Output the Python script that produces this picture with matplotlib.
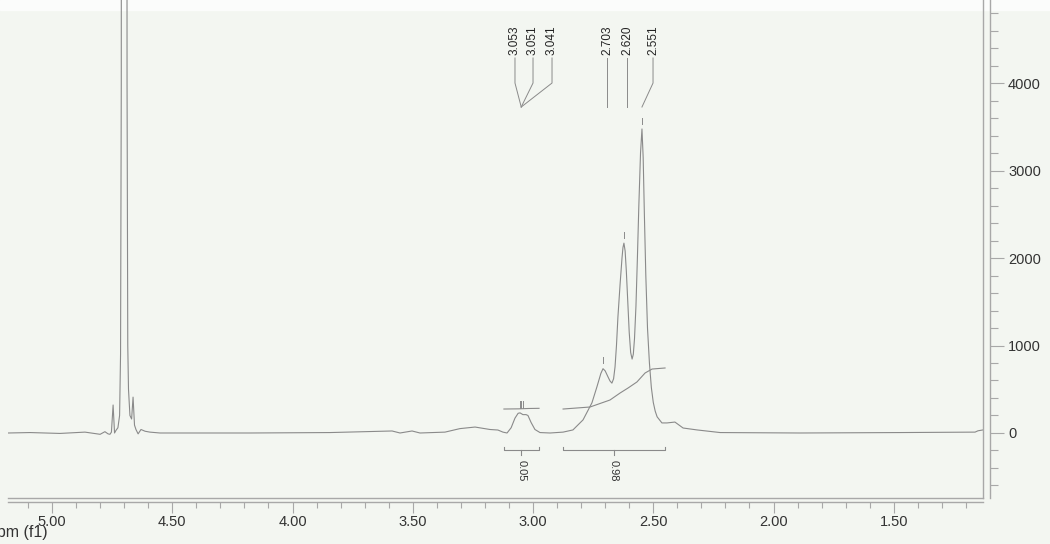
import matplotlib
matplotlib.use('Agg')
import matplotlib.pyplot as plt
from matplotlib.ticker import MultipleLocator, FixedLocator
from matplotlib.patches import Rectangle

# spectrum (ppm, intensity)
ppm = [5.183, 5.091, 4.967, 4.863, 4.800, 4.780, 4.767, 4.759, 4.753, 4.746,
       4.740, 4.734, 4.726, 4.719, 4.715, 4.712, 4.710, 4.700, 4.690, 4.688,
       4.685, 4.682, 4.676, 4.669, 4.663, 4.657, 4.651, 4.642, 4.630, 4.613,
       4.593, 4.551, 4.177, 3.844, 3.586, 3.553, 3.503, 3.470, 3.366, 3.304,
       3.241, 3.179, 3.146, 3.125, 3.108, 3.091, 3.075, 3.062, 3.054, 3.042,
       3.029, 3.021, 3.008, 2.992, 2.971, 2.929, 2.875, 2.834, 2.792, 2.755,
       2.734, 2.718, 2.709, 2.700, 2.688, 2.680, 2.672, 2.665, 2.659, 2.653,
       2.647, 2.638, 2.630, 2.626, 2.622, 2.617, 2.612, 2.606, 2.600, 2.594,
       2.588, 2.583, 2.578, 2.572, 2.566, 2.560, 2.553, 2.547, 2.542, 2.537,
       2.531, 2.524, 2.516, 2.508, 2.500, 2.492, 2.484, 2.464, 2.443, 2.410,
       2.376, 2.318, 2.222, 1.890, 1.474, 1.162, 1.150, 1.129]
intensity = [0, 5, -5, 10, -15, 15, -10, -15, 10, 320,
             0, 30, 60, 200, 900, 4000, 20000, 60000, 20000, 4000,
             1000, 500, 200, 160, 410, 90, 40, -10, 40, 20,
             10, 0, 0, 5, 23, 0, 23, 0, 10, 50,
             68, 40, 34, 10, 0, 60, 170, 225, 230, 210,
             210, 200, 120, 40, 5, 0, 10, 35, 150, 345,
             530, 680, 735, 710, 640, 595, 570, 620, 755, 1000,
             1325, 1700, 2000, 2120, 2170, 2080, 1850, 1500, 1150, 920,
             845, 900, 1080, 1450, 2000, 2600, 3200, 3475, 3150, 2500,
             1800, 1200, 800, 520, 350, 250, 185, 115, 115, 125,
             57, 35, 5, 0, 5, 10, 25, 35]

# peak picking
peak_labels = ['3.053', '3.051', '3.041', '2.703', '2.620', '2.551']
peak_ppm = [3.053, 3.051, 3.041, 2.709, 2.622, 2.547]
peak_height = [230, 230, 230, 735, 2170, 3475]
label_ppm = [3.075, 3.000, 2.921, 2.692, 2.609, 2.501]
leader_ppm = [3.049, 3.049, 3.049, 2.692, 2.609, 2.547]

# integrals
integral_labels = ['0.05', '0.98']
integral_ranges = [(3.121, 2.975), (2.875, 2.451)]
int1_ppm = [3.121, 3.060, 3.020, 2.975]
int1_val = [274, 276, 280, 282]
int2_ppm = [2.875, 2.763, 2.680, 2.638, 2.605, 2.568, 2.534, 2.505, 2.451]
int2_val = [274, 297, 377, 457, 514, 583, 686, 731, 743]

line_col = '#8a8a8a'
frame_col = '#a8a8a8'
text_col = '#333333'
narrow = ['Liberation Sans Narrow', 'Liberation Sans', 'DejaVu Sans']
plt.rcParams['font.family'] = ['Liberation Sans', 'DejaVu Sans']

fig = plt.figure(figsize=(10.5, 5.44), dpi=100, facecolor='#f3f6f1')
fig.patches.append(Rectangle((0, 1 - 10 / 544), 1, 10 / 544, transform=fig.transFigure,
                             color='#fbfcfb', zorder=-1))
ax = fig.add_axes([8 / 1050, 1 - 498 / 544, 975 / 1050, 498 / 544])
ax.set_facecolor('none')

ax.plot(ppm, intensity, color=line_col, lw=0.8)

# integral curves and brackets
ax.plot(int1_ppm, int1_val, color=line_col, lw=0.8)
ax.plot(int2_ppm, int2_val, color=line_col, lw=0.8)
for (a, b), lab in zip(integral_ranges, integral_labels):
    mid = (a + b) / 2
    ax.plot([a, a, b, b], [-160, -194, -194, -160], color=line_col, lw=0.8)
    ax.plot([mid, mid], [-194, -251], color=line_col, lw=0.8)
    ax.text(mid, -430, lab, rotation=270, ha='center', va='center',
            fontsize=8, color=text_col, family=narrow)

# peak labels with leader lines
for lab, p, h, lx, ex in zip(peak_labels, peak_ppm, peak_height, label_ppm, leader_ppm):
    ax.plot([lx, lx, ex], [4286, 4000, 3726], color=line_col, lw=0.7)
    ax.plot([p, p], [h + 60, h + 130], color=line_col, lw=0.7)
    ax.text(lx, 4320, lab, rotation=90, ha='center', va='bottom',
            fontsize=8.5, color='#222222', family=narrow)

ax.set_xlim(5.183, 1.129)
ax.set_ylim(-743, 4949)

# frame
ax.plot([0, 1], [0, 0], transform=ax.transAxes, color=frame_col, lw=1.0, clip_on=False)
ax.plot([1, 1], [0, 1], transform=ax.transAxes, color=frame_col, lw=1.0, clip_on=False)

for s in ['left', 'top']:
    ax.spines[s].set_visible(False)
ax.spines['right'].set_position(('outward', 5.0))
ax.spines['bottom'].set_position(('outward', 2.9))
for s in ['right', 'bottom']:
    ax.spines[s].set_color(frame_col)
    ax.spines[s].set_linewidth(1.0)

ax.yaxis.tick_right()
ax.yaxis.set_major_locator(FixedLocator([0, 1000, 2000, 3000, 4000]))
ax.yaxis.set_minor_locator(MultipleLocator(200))
ax.xaxis.set_major_locator(MultipleLocator(0.5))
ax.xaxis.set_minor_locator(MultipleLocator(0.1))
ax.xaxis.set_major_formatter(plt.FormatStrFormatter('%.2f'))
ax.tick_params(axis='y', which='major', length=10, width=0.8, color=frame_col,
               labelsize=10.5, labelcolor=text_col, pad=3)
ax.tick_params(axis='y', which='minor', length=5.8, width=0.8, color=frame_col)
ax.tick_params(axis='x', which='major', length=8, width=0.8, color=frame_col,
               labelsize=10.5, labelcolor=text_col, pad=1.5)
ax.tick_params(axis='x', which='minor', length=4.3, width=0.8, color=frame_col)

# axis title sits partly off the left edge, as in the scan
fig.text(48 / 1050, 1 - 533 / 544, 'ppm (f1)', ha='right', va='center',
         fontsize=11.5, color=text_col)

fig.savefig('out.png', dpi=100, facecolor=fig.get_facecolor())
